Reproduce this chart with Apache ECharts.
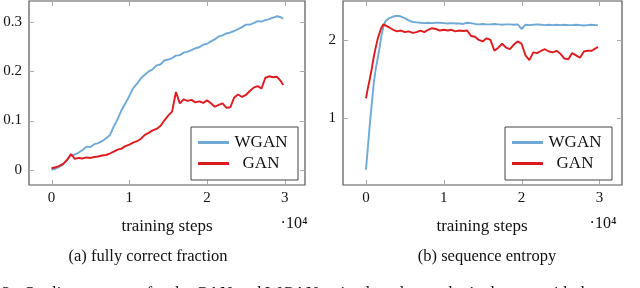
<!DOCTYPE html>
<html>
<head>
<meta charset="utf-8">
<script src="https://cdn.jsdelivr.net/npm/echarts@6/dist/echarts.min.js"></script>
<style>
html,body{margin:0;padding:0;background:#fff;}
#chart{width:640px;height:288px;}
</style>
</head>
<body>
<div id="chart"></div>
<script>
// ---- data (training steps in units of 10^4) ----
const stepsA = [0,0.05,0.10,0.15,0.20,0.25,0.30,0.35,0.40,0.45,0.50,0.55,0.60,0.65,0.70,0.75,0.80,0.85,0.90,0.95,
  1.00,1.05,1.10,1.15,1.20,1.25,1.30,1.35,1.40,1.45,1.50,1.55,1.60,1.65,1.70,1.75,1.80,1.85,1.90,1.95,
  2.00,2.05,2.10,2.15,2.20,2.25,2.30,2.35,2.40,2.45,2.50,2.55,2.60,2.65,2.70,2.75,2.80,2.85,2.90,2.95,2.98];
const wganFrac = [0.000,0.002,0.006,0.011,0.020,0.029,0.031,0.035,0.040,0.047,0.046,0.052,0.054,0.058,0.064,0.070,0.088,0.103,0.121,0.135,
  0.150,0.166,0.175,0.186,0.193,0.200,0.204,0.212,0.214,0.222,0.224,0.227,0.232,0.233,0.238,0.240,0.243,0.247,0.249,0.254,
  0.256,0.261,0.265,0.271,0.273,0.277,0.279,0.282,0.286,0.290,0.295,0.295,0.298,0.302,0.301,0.304,0.306,0.309,0.312,0.310,0.307];
const ganFrac = [0.003,0.005,0.008,0.012,0.020,0.032,0.022,0.024,0.023,0.025,0.024,0.026,0.027,0.029,0.030,0.033,0.037,0.041,0.043,0.048,
  0.051,0.055,0.058,0.063,0.071,0.075,0.080,0.083,0.089,0.100,0.110,0.118,0.158,0.135,0.143,0.140,0.142,0.137,0.139,0.136,
  0.141,0.135,0.128,0.132,0.135,0.126,0.127,0.147,0.153,0.148,0.152,0.160,0.167,0.170,0.165,0.187,0.190,0.188,0.189,0.180,0.172];

const stepsB = [0,0.025,0.05,0.075,0.10,0.125,0.15,0.175,0.20,0.225,0.25,0.30,0.35,0.40,0.45,0.50,0.55,0.60,0.65,0.70,0.75,
  0.80,0.85,0.90,0.95,1.00,1.05,1.10,1.15,1.20,1.25,1.30,1.35,1.40,1.45,1.50,1.55,1.60,1.65,1.70,1.75,
  1.80,1.85,1.90,1.95,2.00,2.05,2.10,2.15,2.20,2.25,2.30,2.35,2.40,2.45,2.50,2.55,2.60,2.65,2.70,2.75,
  2.80,2.85,2.90,2.95,2.98];
const wganEnt = [0.33,0.62,0.92,1.18,1.44,1.62,1.76,1.90,2.06,2.17,2.24,2.28,2.30,2.31,2.30,2.28,2.25,2.23,2.225,2.22,2.215,
  2.22,2.215,2.22,2.22,2.215,2.21,2.215,2.21,2.21,2.205,2.22,2.215,2.205,2.20,2.205,2.20,2.20,2.205,2.20,2.195,
  2.20,2.20,2.195,2.20,2.14,2.195,2.19,2.195,2.20,2.195,2.19,2.195,2.19,2.195,2.19,2.195,2.19,2.19,2.195,2.19,
  2.185,2.19,2.195,2.19,2.19];
const ganEnt = [1.25,1.38,1.50,1.63,1.78,1.90,2.01,2.09,2.16,2.20,2.19,2.16,2.13,2.11,2.12,2.10,2.11,2.09,2.10,2.12,2.10,
  2.13,2.15,2.14,2.12,2.13,2.12,2.13,2.11,2.12,2.115,2.12,2.05,2.04,2.00,1.98,2.02,2.00,1.86,1.90,1.95,
  1.90,1.88,1.94,1.98,1.95,1.80,1.74,1.84,1.83,1.86,1.88,1.85,1.84,1.86,1.82,1.76,1.75,1.83,1.80,1.77,
  1.85,1.86,1.86,1.89,1.91];

const xTicks = [0,1,2,3];
const fracTicks = [0,0.1,0.2,0.3];
const entTicks = [1,2];
const seriesNames = ['WGAN','GAN'];

// ---- styling ----
const BLUE = '#6fa9d6';
const RED = '#dd1a1e';
const SERIF = '"Liberation Serif", "DejaVu Serif", serif';
const TICK_LEN = 5;
const TICK_COLOR = '#ababab';

function pairs(xs, ys){ return xs.map((x,i)=>[x, ys[i]]); }

function xAx(grid, min, max){
  return {type:'value', gridIndex:grid, position:'bottom', min:min, max:max,
    axisLine:{show:false, onZero:false}, splitLine:{show:false}, axisTick:{show:false},
    axisLabel:{show:true, customValues:xTicks, margin:6, color:'#111', fontFamily:SERIF, fontSize:15}};
}
function yAx(grid, min, max, ticks){
  return {type:'value', gridIndex:grid, position:'left', min:min, max:max,
    axisLine:{show:false, onZero:false}, splitLine:{show:false}, axisTick:{show:false},
    axisLabel:{show:true, customValues:ticks, margin:7, color:'#111', fontFamily:SERIF, fontSize:15,
      formatter:v=>String(v)}};
}
function legend(left){
  return {left:left, top:127, orient:'vertical', data:seriesNames, icon:'rect',
    itemWidth:31, itemHeight:3, itemGap:0, itemTextGap:6,
    padding:[5,10,6,7], borderColor:'#444', borderWidth:1, backgroundColor:'#fff',
    selectedMode:false,
    formatter:n=>'{n|'+n+'}',
    textStyle:{color:'#111', fontFamily:SERIF, fontSize:17, lineHeight:21,
      rich:{n:{width:54, align:'center', fontFamily:SERIF, fontSize:17, lineHeight:21, color:'#111'}}}};
}
function line(name, color, idx, data){
  return {type:'line', name:name, xAxisIndex:idx, yAxisIndex:idx, data:data,
    showSymbol:false, symbol:'none', animation:false, z:3,
    lineStyle:{color:color, width:1.9}, itemStyle:{color:color}};
}
// inside tick marks on both sides of the frame, placed through the axis scales
function tickSeries(idx, values, dir, yRef, xRef){
  return {type:'custom', name:'ticks'+idx+dir, xAxisIndex:idx, yAxisIndex:idx, silent:true,
    animation:false, clip:false, z:2,
    data: values.map(v => dir==='x' ? [v, yRef] : [xRef, v]),
    renderItem:function(params, api){
      const cs = params.coordSys;
      const p = api.coord([api.value(0), api.value(1)]);
      const st = {stroke:TICK_COLOR, lineWidth:1};
      if(dir==='x'){
        const x = Math.round(p[0]) + 0.5;
        return {type:'group', children:[
          {type:'line', shape:{x1:x, y1:cs.y+cs.height, x2:x, y2:cs.y+cs.height-TICK_LEN}, style:st},
          {type:'line', shape:{x1:x, y1:cs.y, x2:x, y2:cs.y+TICK_LEN}, style:st}]};
      }
      const y = Math.round(p[1]) + 0.5;
      return {type:'group', children:[
        {type:'line', shape:{x1:cs.x, y1:y, x2:cs.x+TICK_LEN, y2:y}, style:st},
        {type:'line', shape:{x1:cs.x+cs.width, y1:y, x2:cs.x+cs.width-TICK_LEN, y2:y}, style:st}]};
    }};
}
function txt(x, y, s, size, va){
  return {type:'text', style:{text:s, x:x, y:y, font:size+'px '+SERIF, fill:'#111',
    textAlign: va==='left'?'left':'center', textVerticalAlign: va==='left'?'top':'middle'}};
}

const chart = echarts.init(document.getElementById('chart'), null, {renderer:'canvas'});
chart.setOption({
  animation:false,
  grid:[
    {left:29, top:1, width:276, height:184, show:true, borderColor:'#555', borderWidth:1.2},
    {left:343, top:1, width:279, height:184, show:true, borderColor:'#555', borderWidth:1.2}
  ],
  xAxis:[ xAx(0,-0.29,3.26), xAx(1,-0.295,3.29) ],
  yAxis:[ yAx(0,-0.031,0.343,fracTicks), yAx(1,0.134,2.50,entTicks) ],
  legend:[legend(191), legend(505)],
  series:[
    tickSeries(0, xTicks, 'x', 0.1, 0),
    tickSeries(0, fracTicks, 'y', 0.1, 1),
    tickSeries(1, xTicks, 'x', 1.5, 0),
    tickSeries(1, entTicks, 'y', 1.5, 1),
    line(seriesNames[0], BLUE, 0, pairs(stepsA, wganFrac)),
    line(seriesNames[1], RED, 0, pairs(stepsA, ganFrac)),
    line(seriesNames[0], BLUE, 1, pairs(stepsB, wganEnt)),
    line(seriesNames[1], RED, 1, pairs(stepsB, ganEnt))
  ],
  graphic:[
    txt(167, 227, 'training steps', 17),
    txt(294, 224, '·10⁴', 16),
    txt(482, 227, 'training steps', 17),
    txt(603, 224, '·10⁴', 16),
    txt(148, 257, '(a) fully correct fraction', 16.5),
    txt(487, 257, '(b) sequence entropy', 16.5),
    txt(2, 285, '2:  Quality measures for the GAN and WGAN trained on the synthetic data set with the', 17, 'left')
  ]
});
</script>
</body>
</html>
